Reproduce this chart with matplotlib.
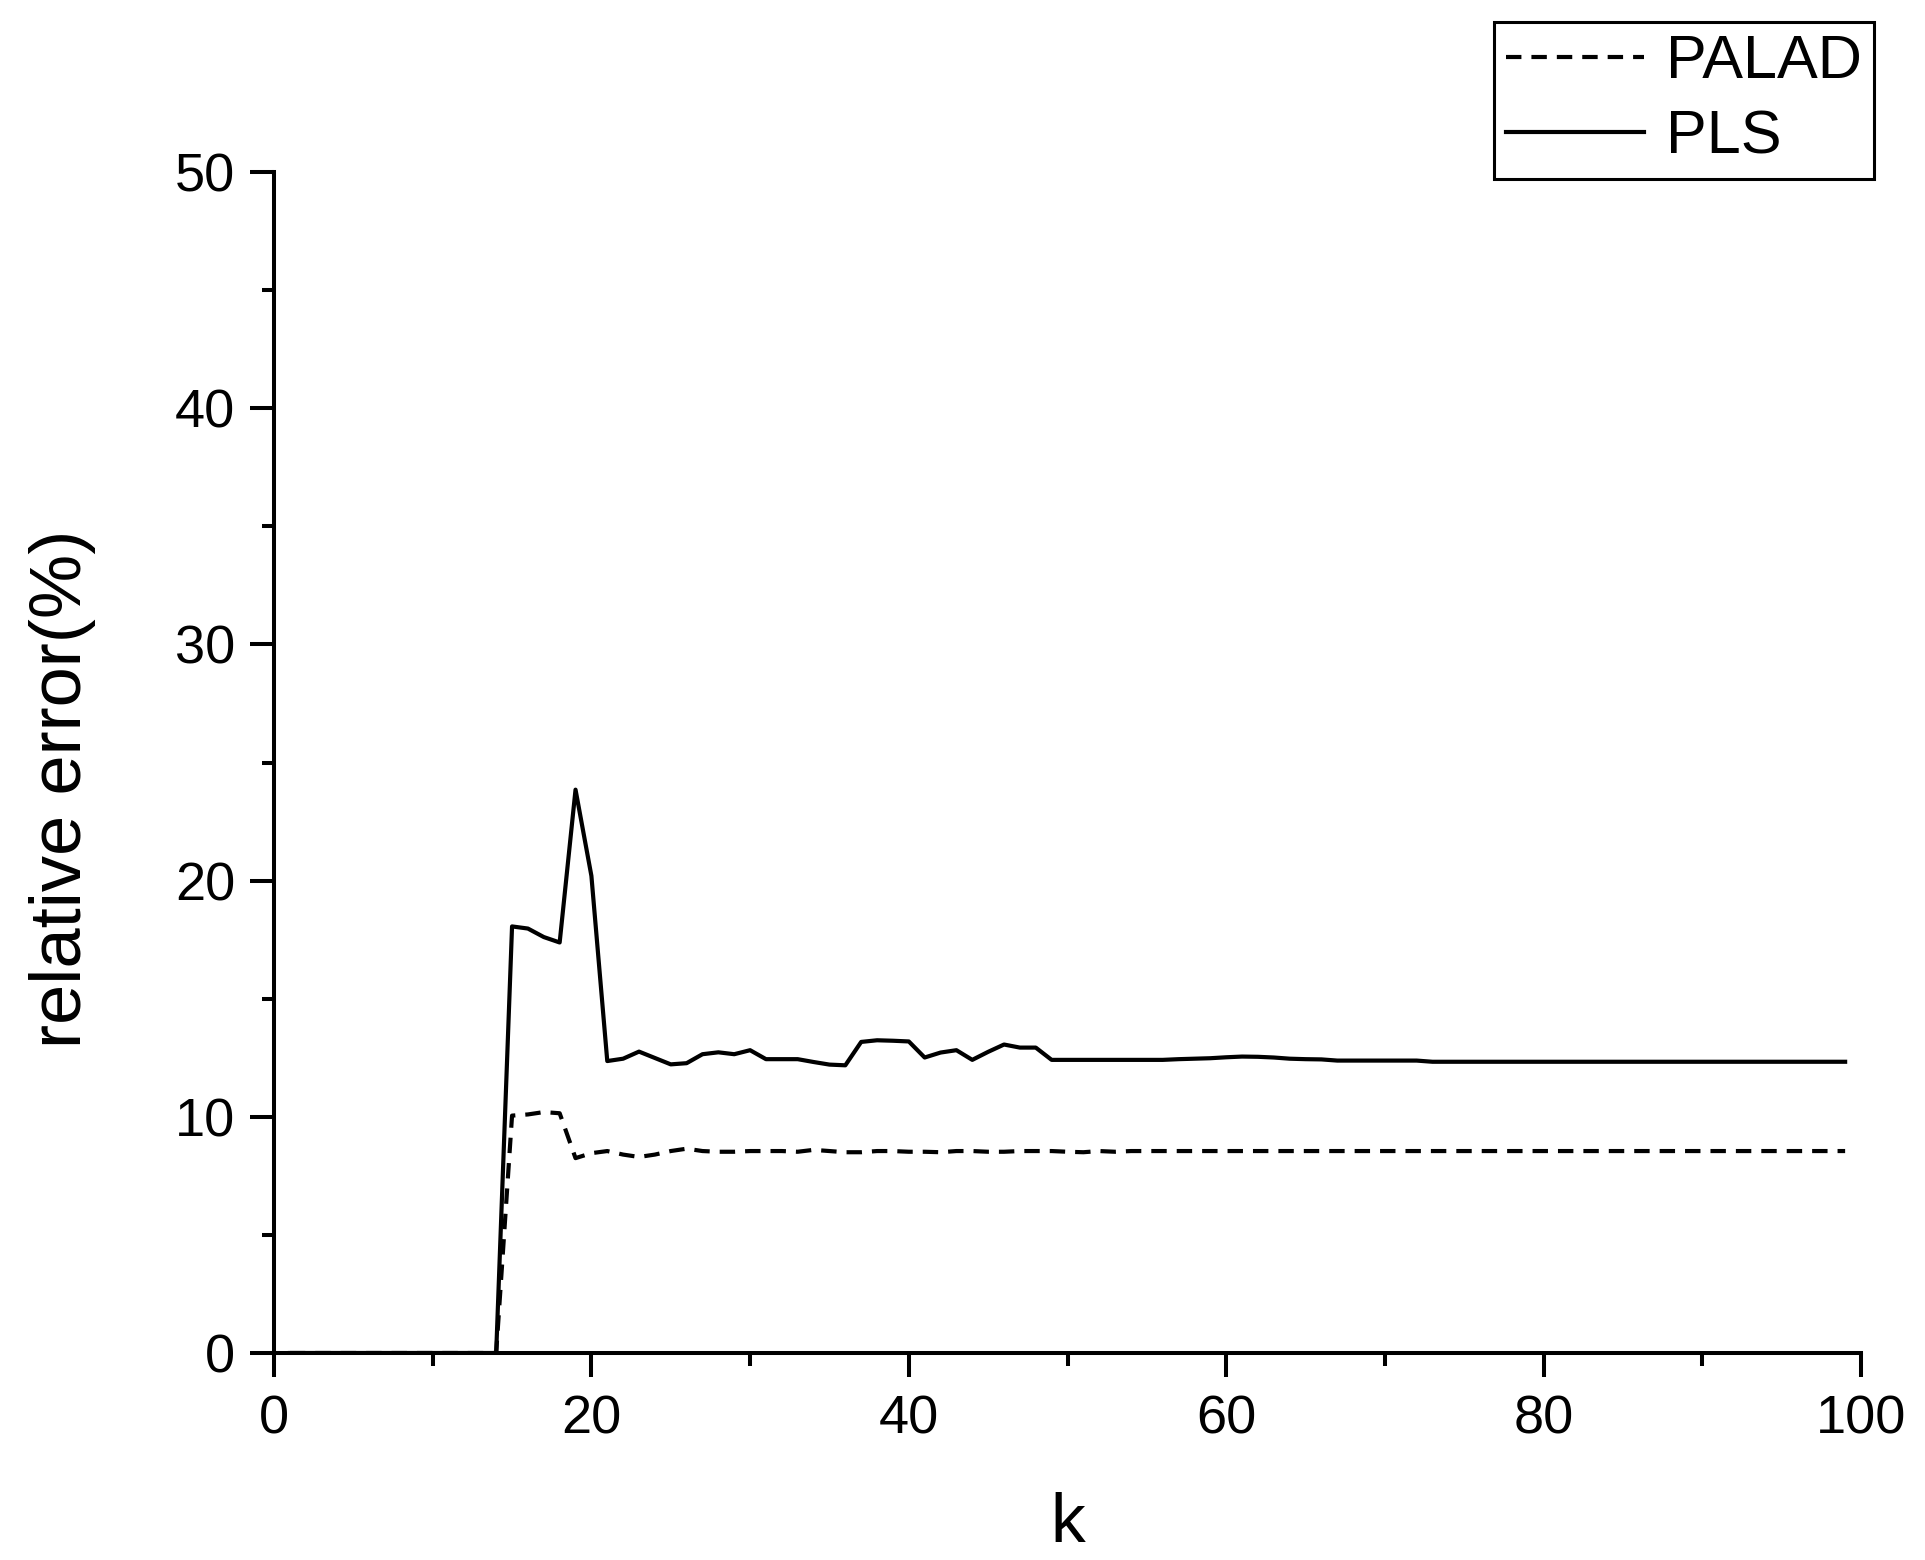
import matplotlib
matplotlib.use('Agg')
import matplotlib.pyplot as plt
from matplotlib.ticker import MultipleLocator

plt.rcParams['font.family'] = ['Liberation Sans', 'DejaVu Sans']

k = list(range(1, 100))

palad = [0, 0, 0, 0, 0, 0, 0, 0, 0, 0, 0, 0, 0, 0,
         10.05, 10.1, 10.2, 10.15, 8.25, 8.46, 8.55, 8.4, 8.3, 8.4,
         8.55, 8.65, 8.55, 8.52, 8.52, 8.55, 8.55, 8.55, 8.52, 8.6,
         8.55, 8.5, 8.5, 8.55, 8.55, 8.52, 8.52, 8.5, 8.55, 8.55,
         8.52, 8.52, 8.55, 8.55, 8.55, 8.52, 8.5, 8.55, 8.52, 8.55,
         8.55, 8.55, 8.55, 8.55, 8.55, 8.55, 8.55, 8.55, 8.55, 8.55,
         8.55, 8.55, 8.55, 8.55, 8.55, 8.55, 8.55, 8.55, 8.55, 8.55,
         8.55, 8.55, 8.55, 8.55, 8.55, 8.55, 8.55, 8.55, 8.55, 8.55,
         8.55, 8.55, 8.55, 8.55, 8.55, 8.55, 8.55, 8.55, 8.55, 8.55,
         8.55, 8.55, 8.55, 8.55, 8.55]

pls = [0, 0, 0, 0, 0, 0, 0, 0, 0, 0, 0, 0, 0, 0,
       18.06, 17.97, 17.61, 17.38, 23.85, 20.2, 12.36, 12.46, 12.76, 12.49,
       12.22, 12.27, 12.65, 12.73, 12.65, 12.82, 12.44, 12.44, 12.44, 12.32,
       12.21, 12.18, 13.17, 13.24, 13.22, 13.19, 12.51, 12.72, 12.82, 12.41,
       12.75, 13.06, 12.93, 12.93, 12.41, 12.41, 12.41, 12.41, 12.41, 12.41,
       12.41, 12.41, 12.44, 12.46, 12.48, 12.52, 12.55, 12.54, 12.51, 12.46,
       12.44, 12.43, 12.38, 12.38, 12.38, 12.38, 12.38, 12.38, 12.33, 12.33,
       12.33, 12.33, 12.33, 12.33, 12.33, 12.33, 12.33, 12.33, 12.33, 12.33,
       12.33, 12.33, 12.33, 12.33, 12.33, 12.33, 12.33, 12.33, 12.33, 12.33,
       12.33, 12.33, 12.33, 12.33, 12.33]

fig = plt.figure(figsize=(19.25, 15.6), dpi=100)
ax = fig.add_axes([274 / 1925, 1 - 1353 / 1560, (1861 - 274) / 1925, (1353 - 172) / 1560])

lw = 3.0
ax.plot(k, palad, color='black', lw=lw, linestyle=(0, (3.7, 2.4)), label='PALAD')
ax.plot(k, pls, color='black', lw=lw, label='PLS')

ax.set_xlim(0, 100)
ax.set_ylim(0, 50)
ax.xaxis.set_major_locator(MultipleLocator(20))
ax.xaxis.set_minor_locator(MultipleLocator(10))
ax.yaxis.set_major_locator(MultipleLocator(10))
ax.yaxis.set_minor_locator(MultipleLocator(5))

for side in ['top', 'right']:
    ax.spines[side].set_visible(False)
for side in ['left', 'bottom']:
    ax.spines[side].set_linewidth(2.9)

ax.tick_params(which='major', direction='out', length=17, width=2.9, labelsize=39)
ax.tick_params(which='minor', direction='out', length=9, width=2.9)
ax.tick_params(axis='x', which='major', pad=13)
ax.tick_params(axis='y', which='major', pad=11)

ax.set_xlabel('k', fontsize=50, labelpad=34)
ax.set_ylabel('relative error(%)', fontsize=52, va='center')
ax.yaxis.set_label_coords(-0.133, 0.478)

leg = fig.legend(loc='upper right', bbox_to_anchor=(1874 / 1925, 1 - 22 / 1560),
                 fontsize=44, handlelength=2.25, handletextpad=0.36,
                 borderpad=0.2, labelspacing=0.3, borderaxespad=0,
                 fancybox=False, edgecolor='black', framealpha=1)
leg.get_frame().set_linewidth(2.2)

fig.savefig('out.png', dpi=100)
